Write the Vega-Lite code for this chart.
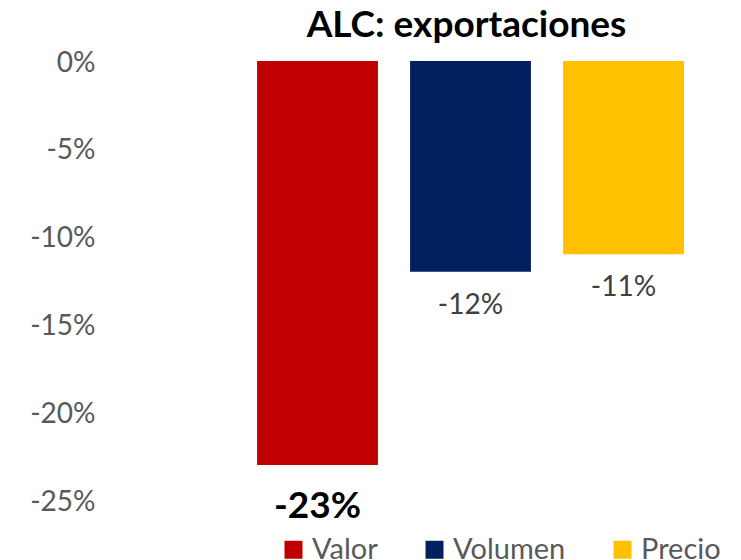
{
  "$schema": "https://vega.github.io/schema/vega-lite/v6.json",
  "autosize": "none",
  "width": 459,
  "height": 439,
  "padding": {"left": 241, "top": 61, "right": 41, "bottom": 60},
  "background": "white",
  "title": {
    "text": "ALC: exportaciones",
    "font": "Lato",
    "fontSize": 37,
    "fontWeight": "bold",
    "color": "#000000",
    "anchor": "middle",
    "frame": "group",
    "dx": -4,
    "offset": 4
  },
  "config": {
    "view": {"stroke": null},
    "font": "Lato"
  },
  "data": {
    "values": [
      {"serie": "Valor", "value": -0.23},
      {"serie": "Volumen", "value": -0.12},
      {"serie": "Precio", "value": -0.11}
    ]
  },
  "transform": [
    {"calculate": "replace(format(datum.value, '.0%'), '\u2212', '-')", "as": "label"}
  ],
  "encoding": {
    "x": {
      "field": "serie",
      "type": "nominal",
      "sort": ["Valor", "Volumen", "Precio"],
      "scale": {"paddingInner": 0.21, "paddingOuter": 0.105},
      "axis": null
    }
  },
  "layer": [
    {
      "mark": {"type": "bar"},
      "encoding": {
        "y": {
          "field": "value",
          "type": "quantitative",
          "scale": {"domain": [-0.25, 0], "nice": false, "zero": false},
          "axis": {
            "values": [0, -0.05, -0.1, -0.15, -0.2, -0.25],
            "format": ".0%",
            "labelExpr": "replace(datum.label, '\u2212', '-')",
            "grid": false,
            "domain": false,
            "ticks": false,
            "title": null,
            "labelFontSize": 28,
            "labelColor": "#595959",
            "labelFont": "Lato",
            "labelPadding": 6,
            "labelOffset": 2,
            "offset": 140
          }
        },
        "y2": {"datum": 0},
        "color": {
          "field": "serie",
          "type": "nominal",
          "sort": ["Valor", "Volumen", "Precio"],
          "scale": {
            "domain": ["Valor", "Volumen", "Precio"],
            "range": ["#C00000", "#002060", "#FFC000"]
          },
          "legend": {
            "title": null,
            "orient": "none",
            "direction": "horizontal",
            "columns": 3,
            "legendX": 38,
            "legendY": 474,
            "symbolType": "square",
            "symbolSize": 324,
            "symbolStrokeWidth": 0,
            "labelFontSize": 29,
            "labelFont": "Lato",
            "labelColor": "#595959",
            "labelOffset": 4,
            "columnPadding": 42,
            "padding": 0
          }
        }
      }
    },
    {
      "transform": [{"filter": "datum.serie != 'Valor'"}],
      "mark": {"type": "text", "baseline": "middle", "dy": 34, "fontSize": 28, "color": "#404040"},
      "encoding": {
        "y": {"field": "value", "type": "quantitative"},
        "text": {"field": "label"}
      }
    },
    {
      "transform": [{"filter": "datum.serie == 'Valor'"}],
      "mark": {"type": "text", "baseline": "middle", "dy": 42, "fontSize": 37, "fontWeight": "bold", "color": "#000000"},
      "encoding": {
        "y": {"field": "value", "type": "quantitative"},
        "text": {"field": "label"}
      }
    }
  ]
}
